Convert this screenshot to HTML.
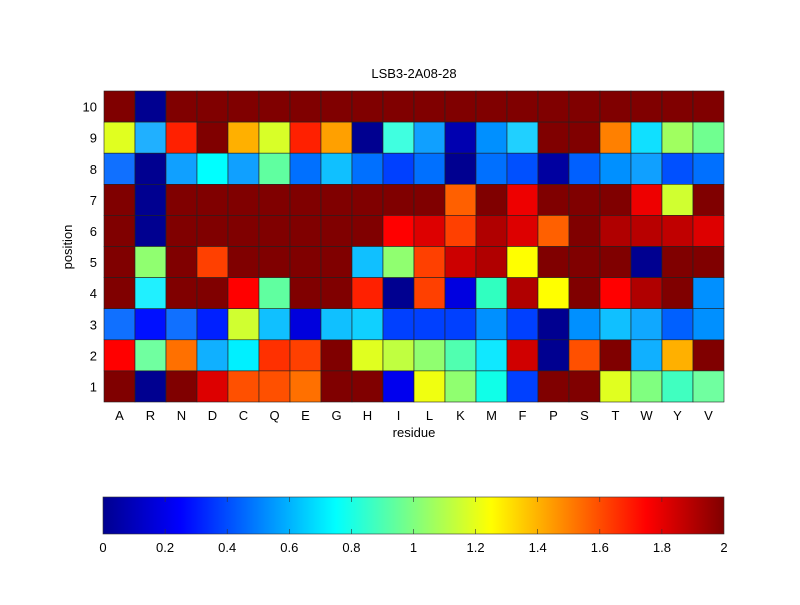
<!DOCTYPE html>
<html><head><style>body{margin:0;background:#fff}svg text{font-family:"Liberation Sans",sans-serif;font-size:13px;fill:#000}</style></head><body>
<svg width="800" height="600" xmlns="http://www.w3.org/2000/svg">
<defs><linearGradient id="jet" x1="0" x2="1" y1="0" y2="0">
<stop offset="0" stop-color="#00008f"/><stop offset="0.125" stop-color="#0000ff"/><stop offset="0.375" stop-color="#00ffff"/><stop offset="0.625" stop-color="#ffff00"/><stop offset="0.875" stop-color="#ff0000"/><stop offset="1" stop-color="#800000"/></linearGradient></defs>
<rect width="800" height="600" fill="#fff"/>
<g id="grid" stroke="#222" stroke-width="0.6"></g>
<text x="414" y="78" text-anchor="middle">LSB3-2A08-28</text>
<rect x="103" y="497" width="621" height="37" fill="url(#jet)" stroke="#333" stroke-width="0.6"/>
<g id="cb"></g>
<text x="414" y="437" text-anchor="middle">residue</text>
<text transform="translate(72,247) rotate(-90)" text-anchor="middle">position</text>
<g id="lab"></g>
</svg>
<script>
var d="#800000",N="#000090";
var rows={
10:[d,N,d,d,d,d,d,d,d,d,d,d,d,d,d,d,d,d,d,d],
9:["#e0ff20","#20b0ff","#ff2000",d,"#ffb000","#d8ff28","#ff2000","#ffa000",N,"#40ffe0","#10a0ff","#0000b0","#0090ff","#20d0ff",d,d,"#ff8000","#10e0ff","#a0ff60","#70ff90"],
8:["#1070ff",N,"#10a0ff","#00ffff","#10a0ff","#60ffa0","#0070ff","#10c0ff","#0070ff","#0040ff","#0070ff",N,"#0070ff","#0050ff","#0000a0","#0060ff","#0090ff","#10a0ff","#0050ff","#0070ff"],
7:[d,N,d,d,d,d,d,d,d,d,d,"#ff6000",d,"#ee0000",d,d,d,"#ee0000","#d0ff30",d],
6:[d,N,d,d,d,d,d,d,d,"#ff0000","#dd0000","#ff4000","#b00000","#dd0000","#ff6000",d,"#b00000","#b80000","#c00000","#dd0000"],
5:[d,"#90ff70",d,"#ff4000",d,d,d,d,"#10c0ff","#90ff70","#ff4000","#cc0000","#b00000","#ffff00",d,d,d,N,d,d],
4:[d,"#20f0ff",d,d,"#ff0000","#60ffa0",d,d,"#ff2000",N,"#ff4000","#0000e0","#30ffc0","#b00000","#ffff00",d,"#ff0000","#b00000",d,"#0090ff"],
3:["#1070ff","#0010ff","#1070ff","#0020ff","#d0ff30","#10c0ff","#0000dd","#10c0ff","#10d0ff","#0040ff","#0040ff","#0040ff","#0090ff","#0040ff",N,"#0090ff","#10c0ff","#10a8ff","#0060ff","#0090ff"],
2:["#ff0000","#70ffa0","#ff7000","#10b0ff","#00f0ff","#ff3000","#ff4000",d,"#e0ff20","#c0ff40","#90ff70","#50ffb0","#10e8ff","#d00000",N,"#ff5000",d,"#10b0ff","#ffb000",d],
1:[d,N,d,"#dd0000","#ff5000","#ff5000","#ff7000",d,d,"#0000ee","#f0ff10","#90ff70","#10ffe8","#0040ff",d,d,"#e0ff20","#80ff80","#40ffc0","#70ffa0"]};
var ns="http://www.w3.org/2000/svg",g=document.getElementById("grid"),lab=document.getElementById("lab");
var X0=104,Y0=91,W=31,H=31.1;
for(var r=10;r>=1;r--){for(var c=0;c<20;c++){var e=document.createElementNS(ns,"rect");
e.setAttribute("x",X0+c*W);e.setAttribute("y",Y0+(10-r)*H);e.setAttribute("width",W);e.setAttribute("height",H);e.setAttribute("fill",rows[r][c]);g.appendChild(e);}
var t=document.createElementNS(ns,"text");t.setAttribute("x",97);t.setAttribute("y",Y0+(10-r)*H+H/2+5);t.setAttribute("text-anchor","end");t.textContent=r;lab.appendChild(t);}
var aa="ARNDCQEGHILKMFPSTWYV";
for(var c=0;c<20;c++){var t=document.createElementNS(ns,"text");t.setAttribute("x",X0+c*W+W/2);t.setAttribute("y",420);t.setAttribute("text-anchor","middle");t.textContent=aa[c];lab.appendChild(t);}
var cb=document.getElementById("cb"),L=["0","0.2","0.4","0.6","0.8","1","1.2","1.4","1.6","1.8","2"];
for(var i=0;i<=10;i++){var x=103+i*62.1;var t=document.createElementNS(ns,"text");t.setAttribute("x",x);t.setAttribute("y",552);t.setAttribute("text-anchor","middle");t.textContent=L[i];cb.appendChild(t);
if(i>0&&i<10){[497,529].forEach(function(y){var l=document.createElementNS(ns,"line");l.setAttribute("x1",x);l.setAttribute("x2",x);l.setAttribute("y1",y);l.setAttribute("y2",y+5);l.setAttribute("stroke","#333");l.setAttribute("stroke-width","0.6");cb.appendChild(l);});}}
</script>
</body></html>
